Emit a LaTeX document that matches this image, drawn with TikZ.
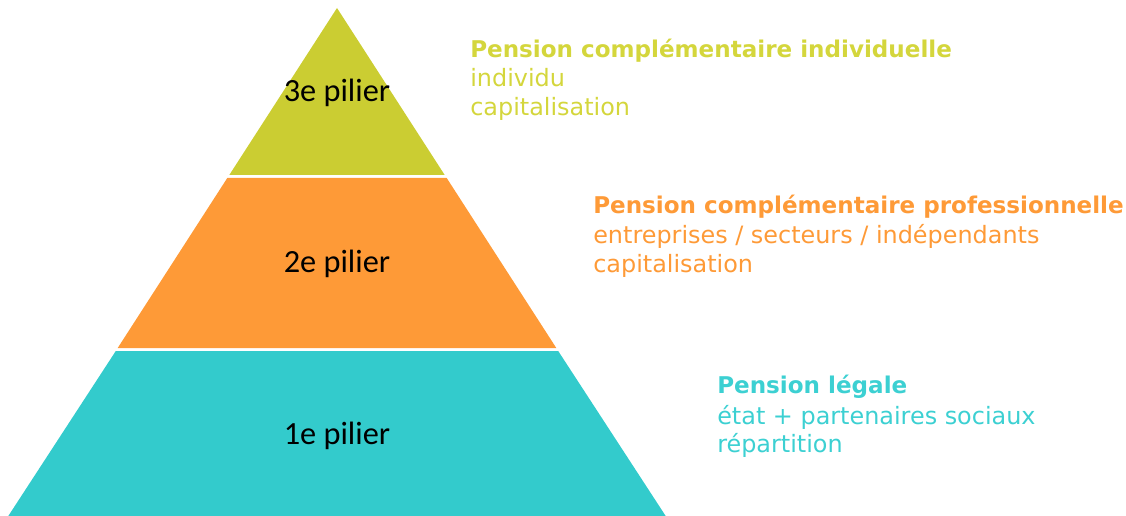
\documentclass[tikz,border=0pt]{standalone}
\usepackage{fontspec}
\setmainfont{DejaVu Sans}
\newfontfamily\pilierfont{Carlito}
\usetikzlibrary{calc}
\definecolor{olive3}{RGB}{203,205,50}
\definecolor{orange2}{RGB}{254,154,55}
\definecolor{teal1}{RGB}{51,203,204}
\definecolor{olivetext}{RGB}{212,214,60}
\definecolor{tealtext}{RGB}{60,208,210}
\tikzset{
  pilier/.style={font=\pilierfont\fontsize{23}{27}\selectfont, text=black},
  head/.style={font=\bfseries\fontsize{16.4}{19}\selectfont, anchor=base west, inner sep=0pt},
  sub/.style={font=\fontsize{17}{20}\selectfont, anchor=base west, inner sep=0pt}
}
\begin{document}
\begin{tikzpicture}[x=0.25mm, y=-0.25mm]
\useasboundingbox (0,0) rectangle (1126,516);
\fill[olive3] (337,8) -- (444.7,175) -- (229.3,175) -- cycle;
\fill[orange2] (227.3,178) -- (446.7,178) -- (556.3,348) -- (117.7,348) -- cycle;
\fill[teal1] (115.8,351) -- (558.2,351) -- (665.7,516) -- (8.3,516) -- cycle;
\node[pilier] (p3) at (337,93) {3e pilier};
\node[pilier] (p2) at (337,264) {2e pilier};
\node[pilier] (p1) at (337,436) {1e pilier};

\node[head, text=olivetext] (h3) at (470,58) {Pension complémentaire individuelle};
\node[sub, text=olivetext] (h3a) at ($(h3.base west)+(0,29)$) {individu};
\node[sub, text=olivetext] (h3b) at ($(h3a.base west)+(0,29)$) {capitalisation};

\node[head, text=orange2] (h2) at (593,213) {Pension complémentaire professionnelle};
\node[sub, text=orange2] (h2a) at ($(h2.base west)+(0,30)$) {entreprises / secteurs / indépendants};
\node[sub, text=orange2] (h2b) at ($(h2a.base west)+(0,29)$) {capitalisation};

\node[head, text=tealtext] (h1) at (717,393) {Pension légale};
\node[sub, text=tealtext] (h1a) at ($(h1.base west)+(0,31)$) {état + partenaires sociaux};
\node[sub, text=tealtext] (h1b) at ($(h1a.base west)+(0,28)$) {répartition};
\end{tikzpicture}
\end{document}
